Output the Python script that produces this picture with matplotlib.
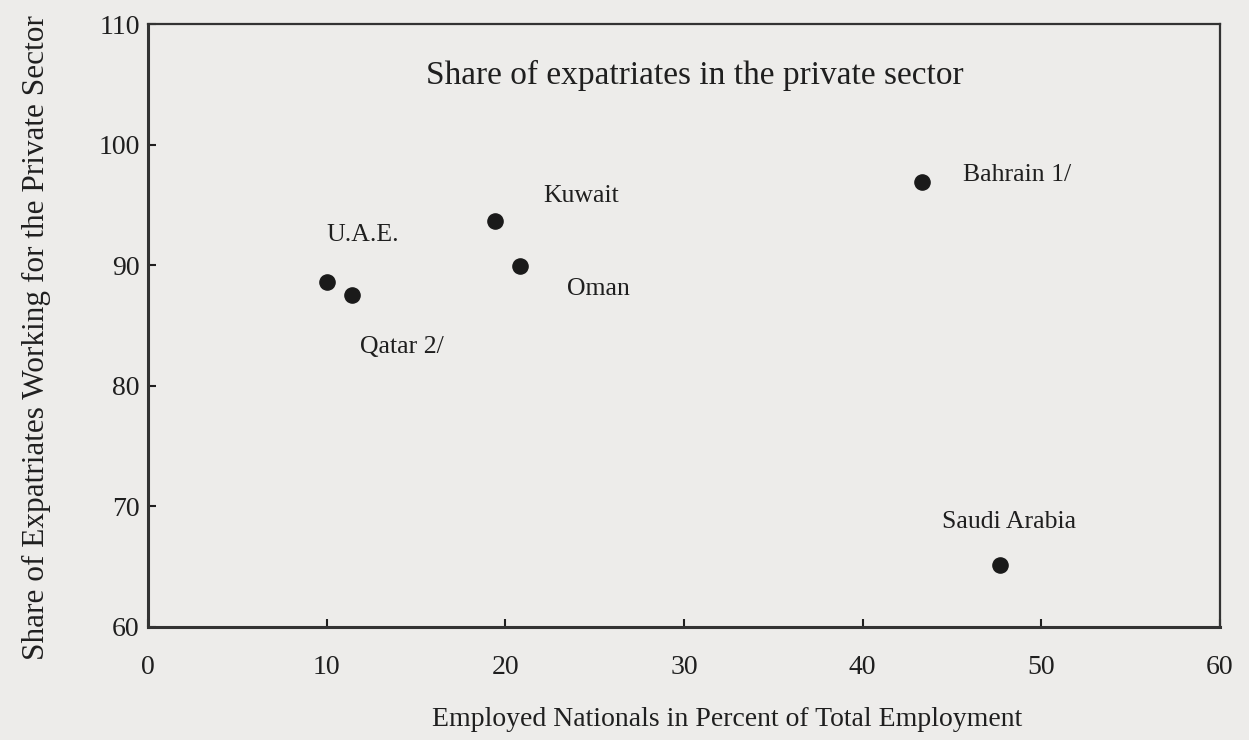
"""Share of expatriates in the private sector (GCC scatter)."""

import matplotlib
matplotlib.use("Agg")
import matplotlib.pyplot as plt

countries = ["U.A.E.", "Qatar 2/", "Kuwait", "Oman", "Bahrain 1/", "Saudi Arabia"]
nationals_pct = [10.0, 11.4, 19.4, 20.8, 43.3, 47.7]
expat_private_pct = [88.6, 87.5, 93.7, 89.9, 96.9, 65.1]

# label offsets in points (dx, dy) relative to each point
label_offsets = [(0, 34), (6, -37), (35, 18), (34, -16), (30, 5), (-42, 31)]

x_ticks = [0, 10, 20, 30, 40, 50, 60]
y_ticks = [60, 70, 80, 90, 100, 110]

BG = "#edecea"
INK = "#1f1f1f"

plt.rcParams["font.family"] = ["Liberation Serif", "DejaVu Serif"]

fig = plt.figure(figsize=(12.49, 7.40), dpi=100, facecolor=BG)
ax = fig.add_axes([0.1185, 0.153, 0.8583, 0.8145], facecolor=BG)

ax.scatter(nationals_pct, expat_private_pct, s=120, color="#1a1a1a", zorder=3)
for name, x, y, (dx, dy) in zip(countries, nationals_pct, expat_private_pct, label_offsets):
    ax.annotate(name, (x, y), xytext=(dx, dy), textcoords="offset points",
                fontsize=18.5, color=INK, va="center", ha="left")

ax.set_xlim(0, 60)
ax.set_ylim(60, 110)
ax.set_xticks(x_ticks)
ax.set_yticks(y_ticks)
ax.tick_params(direction="in", length=6, width=1.5, labelsize=20, colors=INK)
ax.tick_params(axis="x", pad=20)
ax.tick_params(axis="y", pad=6)
for side in ["left", "bottom"]:
    ax.spines[side].set_linewidth(2.2)
for side in ["top", "right"]:
    ax.spines[side].set_linewidth(1.6)
for sp in ax.spines.values():
    sp.set_color("#333333")

ax.text(0.51, 0.915, "Share of expatriates in the private sector", transform=ax.transAxes,
        ha="center", va="center", fontsize=24, color=INK)
ax.set_xlabel("Employed Nationals in Percent of Total Employment", fontsize=20,
              color=INK, labelpad=20, x=0.54)
ax.set_ylabel("Share of Expatriates Working for the Private Sector", fontsize=22.5,
              color=INK, labelpad=34, y=0.48)

fig.savefig("out.png", dpi=100, facecolor=BG)
